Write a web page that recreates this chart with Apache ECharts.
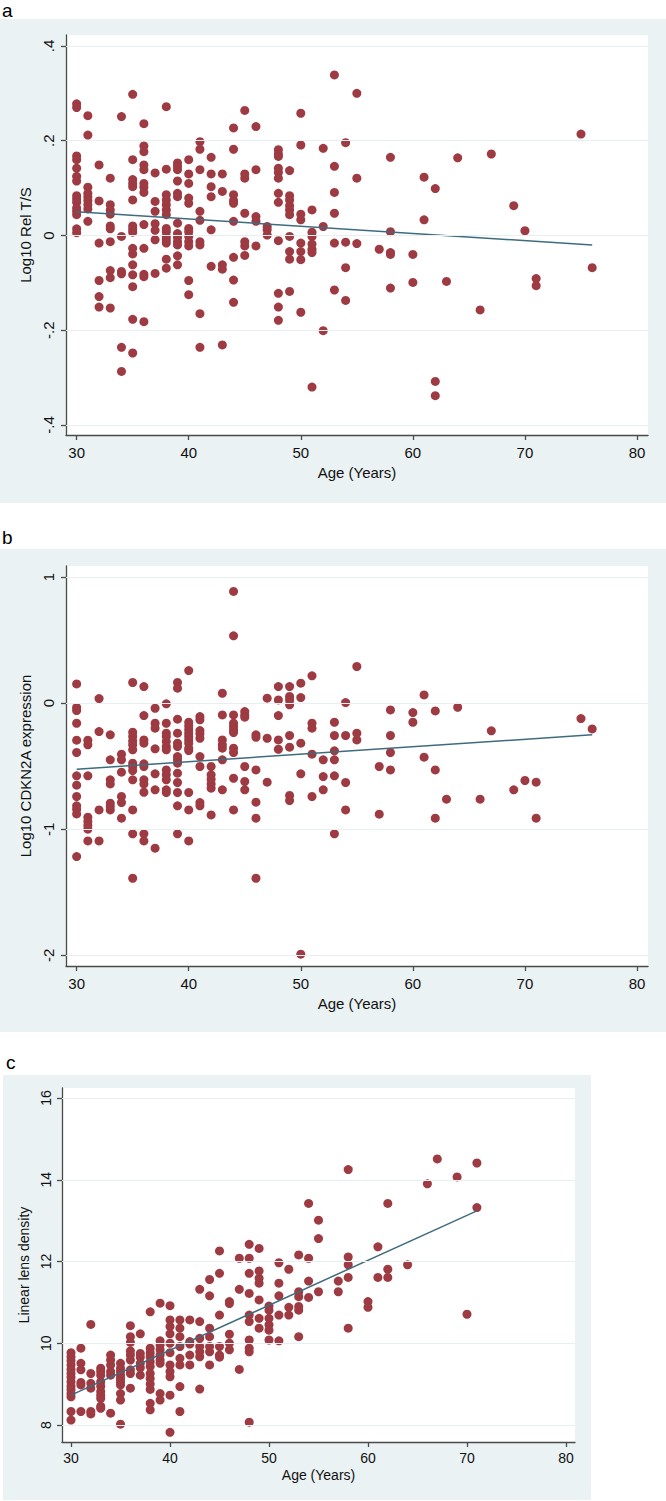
<!DOCTYPE html>
<html>
<head>
<meta charset="utf-8">
<script src="https://cdn.jsdelivr.net/npm/echarts@6/dist/echarts.min.js"></script>
<style>
html,body{margin:0;padding:0;background:#fff;}
#chart{width:666px;height:1501px;}
</style>
</head>
<body>
<div id="chart"></div>
<script>
// ---------- shared ----------
const xTicks = [30, 40, 50, 60, 70, 80];

// ---------- panel a : Log10 Rel T/S ----------
const agesA = [30,31,32,33,34,35,36,37,38,39,40,41,42,43,44,45,46,47,48,49,50,51,52,53,54,55,57,58,60,61,62,63,64,66,67,69,70,71,75,76];
const relTS = [
  [0.278,0.270,0.168,0.160,0.142,0.125,0.115,0.084,0.077,0.070,0.058,0.051,0.044,0.014,0.006],
  [0.253,0.212,0.102,0.089,0.082,0.074,0.065,0.056,0.030],
  [0.149,0.073,-0.016,-0.095,-0.129,-0.151],
  [0.121,0.065,0.054,0.045,0.020,0.014,-0.013,-0.074,-0.089,-0.153],
  [0.251,-0.002,-0.076,-0.081,-0.236,-0.287],
  [0.298,0.160,0.118,0.110,0.103,0.075,0.020,0.013,0.007,-0.027,-0.039,-0.062,-0.083,-0.108,-0.177,-0.248],
  [0.236,0.189,0.177,0.149,0.139,0.110,0.102,0.091,0.023,-0.027,-0.082,-0.087,-0.182],
  [0.132,0.072,0.051,0.025,0.011,-0.009,-0.080],
  [0.272,0.140,0.086,0.075,0.065,0.054,0.044,0.015,0.008,-0.002,-0.009,-0.016,-0.050,-0.069],
  [0.153,0.146,0.139,0.115,0.089,0.082,0.026,0.004,-0.004,-0.013,-0.020,-0.043,-0.062],
  [0.160,0.130,0.110,0.079,0.068,0.015,0.008,-0.002,-0.013,-0.022,-0.095,-0.125],
  [0.198,0.182,0.139,0.051,0.032,-0.013,-0.020,-0.165,-0.236],
  [0.165,0.130,0.103,0.082,0.012,-0.065],
  [0.130,0.093,-0.062,-0.071,-0.231],
  [0.227,0.182,0.086,0.074,0.068,0.030,-0.046,-0.094,-0.141],
  [0.264,0.130,0.121,0.047,-0.013,-0.022,-0.042],
  [0.230,0.139,0.040,0.030,-0.022],
  [0.019,0.012,0.001],
  [0.181,0.172,0.167,0.142,0.133,0.121,0.089,0.070,-0.011,-0.122,-0.151,-0.179],
  [0.137,0.084,0.075,0.063,0.054,0.044,-0.002,-0.034,-0.050,-0.118],
  [0.258,0.191,0.045,0.033,-0.016,-0.034,-0.051,-0.162],
  [0.054,0.007,-0.002,-0.018,-0.029,-0.036,-0.320],
  [0.184,0.019,-0.201],
  [0.339,0.146,0.091,0.047,-0.016,-0.115],
  [0.196,-0.014,-0.068,-0.137],
  [0.300,0.121,-0.017],
  [-0.029],
  [0.165,0.008,-0.036,-0.040,-0.111],
  [-0.040,-0.099],
  [0.123,0.033],
  [0.099,-0.308,-0.338],
  [-0.097],
  [0.164],
  [-0.157],
  [0.172],
  [0.063],
  [0.010],
  [-0.091,-0.106],
  [0.214],
  [-0.068]
];
const fitA = [[30, 0.050], [76, -0.020]];
const yTicksA = [-0.4, -0.2, 0, 0.2, 0.4];
const yLabelsA = ['-.4', '-.2', '0', '.2', '.4'];

// ---------- panel b : Log10 CDKN2A expression ----------
const agesB = [30,31,32,33,34,35,36,37,38,39,40,41,42,43,44,45,46,47,48,49,50,51,52,53,54,55,57,58,60,61,62,63,64,66,67,69,70,71,75,76];
const cdkn2a = [
  [0.153,-0.034,-0.058,-0.159,-0.293,-0.391,-0.576,-0.650,-0.740,-0.814,-0.841,-0.878,-1.216],
  [-0.293,-0.330,-0.576,-0.904,-0.938,-0.970,-0.999,-1.092],
  [0.037,-0.225,-0.846,-1.092],
  [-0.251,-0.449,-0.608,-0.640,-0.793,-0.819,-0.846],
  [-0.404,-0.449,-0.547,-0.740,-0.788,-0.912],
  [0.164,-0.230,-0.264,-0.299,-0.330,-0.370,-0.476,-0.502,-0.534,-0.608,-0.846,-1.036,-1.388],
  [0.132,-0.098,-0.291,-0.317,-0.481,-0.502,-0.608,-0.640,-0.706,-1.036,-1.092],
  [-0.040,-0.159,-0.198,-0.362,-0.560,-0.687,-1.150],
  [-0.005,-0.159,-0.238,-0.264,-0.304,-0.344,-0.370,-0.529,-0.568,-0.608,-0.687,-0.708],
  [0.164,0.119,-0.127,-0.238,-0.317,-0.344,-0.423,-0.449,-0.476,-0.555,-0.629,-0.708,-0.814,-1.036],
  [0.259,-0.151,-0.180,-0.211,-0.238,-0.264,-0.291,-0.317,-0.357,-0.375,-0.708,-0.846,-1.092],
  [-0.106,-0.132,-0.217,-0.243,-0.278,-0.423,-0.502,-0.788,-0.814],
  [-0.502,-0.568,-0.603,-0.640,-0.674,-0.886],
  [0.079,-0.093,-0.291,-0.330,-0.357,-0.449,-0.687],
  [0.886,0.534,-0.093,-0.159,-0.185,-0.211,-0.233,-0.357,-0.391,-0.595,-0.846],
  [-0.066,-0.093,-0.111,-0.502,-0.621,-0.687],
  [-0.251,-0.270,-0.529,-0.785,-0.912,-1.388],
  [0.040,-0.278,-0.626],
  [0.132,0.026,-0.098,-0.291,-0.365],
  [0.132,0.053,0.026,-0.013,-0.256,-0.349,-0.732,-0.772],
  [0.159,0.045,-0.317,-0.560,-1.990],
  [0.217,-0.159,-0.198,-0.404,-0.740],
  [-0.449,-0.582,-0.687],
  [-0.151,-0.256,-0.378,-0.449,-0.576,-1.036],
  [0.005,-0.256,-0.629,-0.846],
  [0.291,-0.238,-0.291],
  [-0.502,-0.880],
  [-0.053,-0.256,-0.391,-0.529],
  [-0.074,-0.151],
  [0.066,-0.428],
  [-0.061,-0.529,-0.912],
  [-0.761],
  [-0.032],
  [-0.761],
  [-0.219],
  [-0.687],
  [-0.613],
  [-0.626,-0.912],
  [-0.122],
  [-0.204]
];
const fitB = [[30, -0.523], [76, -0.251]];
const yTicksB = [-2, -1, 0, 1];
const yLabelsB = ['-2', '-1', '0', '1'];

// ---------- panel c : Linear lens density ----------
const agesC = [30,31,32,33,34,35,36,37,38,39,40,41,42,43,44,45,46,47,48,49,50,51,52,53,54,55,57,58,60,61,62,64,66,67,69,70,71];
const lensDensity = [
  [9.77,9.67,9.57,9.47,9.36,9.26,9.17,9.06,8.95,8.86,8.77,8.69,8.33,8.12],
  [9.88,9.51,9.35,9.04,8.98,8.33],
  [10.46,9.26,9.02,8.90,8.33,8.27],
  [9.39,9.31,9.22,9.06,8.95,8.82,8.73,8.65,8.46,8.41],
  [9.71,9.59,9.47,9.31,9.22,8.29],
  [9.51,9.39,9.31,9.22,9.14,9.06,8.98,8.77,8.61,8.02],
  [10.43,10.16,10.02,9.81,9.71,9.59,9.35,9.26,8.90],
  [10.23,9.75,9.66,9.51,9.40,9.22],
  [10.77,9.88,9.77,9.67,9.55,9.43,9.26,9.14,9.00,8.87,8.53,8.37],
  [10.98,10.06,9.96,9.84,9.71,9.59,9.51,8.77,8.61],
  [10.92,10.57,10.41,10.23,10.00,9.77,9.47,9.31,9.18,8.73,7.82],
  [10.57,10.37,10.16,9.92,9.63,9.47,8.94,8.33],
  [10.57,10.04,9.98,9.71,9.47],
  [11.32,10.53,10.12,9.92,9.79,9.67,8.88],
  [11.56,11.16,10.37,10.16,9.92,9.79,9.47],
  [12.26,11.71,10.69,9.92,9.71,9.66],
  [11.02,10.97,10.22,10.00,9.84],
  [12.08,11.32,9.36],
  [12.42,12.08,11.71,11.22,10.69,10.53,10.08,9.88,9.79,8.07],
  [12.32,11.77,11.59,11.47,11.06,10.61,10.37],
  [10.91,10.81,10.61,10.45,10.32,10.08],
  [11.97,11.47,11.16,10.69,10.06],
  [11.81,10.88,10.69],
  [12.16,11.26,11.14,10.90,10.81,10.16],
  [13.42,12.08,11.52,11.12],
  [13.01,12.56,11.26],
  [11.52,11.26],
  [14.25,12.11,11.92,11.61,10.37],
  [11.02,10.88],
  [12.36,11.61],
  [13.42,11.81,11.61],
  [11.92],
  [13.90],
  [14.51],
  [14.07],
  [10.71],
  [14.41,13.32]
];
const fitC = [[30, 8.73], [71, 13.24]];
const yTicksC = [8, 10, 12, 14, 16];
const yLabelsC = ['8', '10', '12', '14', '16'];

const yTitles = ['Log10 Rel T/S', 'Log10 CDKN2A expression', 'Linear lens density'];
const xTitle = 'Age (Years)';
const panelLetters = ['a', 'b', 'c'];

// ---------- build ----------
function pairs(ages, groups) {
  const out = [];
  ages.forEach((a, i) => groups[i].forEach(v => out.push([a, v])));
  return out;
}

const FONT = '"Liberation Sans", Arial, Helvetica, sans-serif';
const BG = '#eaf2f3';
const MARK = '#9d3a42';
const FIT = '#3f6b7e';
const AXIS = '#4a4a4a';
const GRIDC = '#e8eff1';

const panels = [
  { pts: pairs(agesA, relTS), fit: fitA, yt: yTicksA, yl: yLabelsA,
    grid: {left: 66, top: 35, width: 582, height: 400},
    xr: [29.05, 80.98], yr: [-0.4211, 0.4232], fs: 15, yGap: 29, xGap: 30, lm: 10,
    bg: [0, 19, 666, 484], letter: [2, 10] },
  { pts: pairs(agesB, cdkn2a), fit: fitB, yt: yTicksB, yl: yLabelsB,
    grid: {left: 66, top: 566, width: 582, height: 400},
    xr: [29.05, 80.98], yr: [-2.084, 1.088], fs: 15, yGap: 29, xGap: 30, lm: 10,
    bg: [0, 549, 666, 483], letter: [2, 537] },
  { pts: pairs(agesC, lensDensity), fit: fitC, yt: yTicksC, yl: yLabelsC,
    grid: {left: 62, top: 1088, width: 513, height: 354},
    xr: [29.09, 80.91], yr: [7.584, 16.245], fs: 14, yGap: 27, xGap: 26, lm: 9,
    bg: [3, 1075, 588, 425], letter: [6, 1062] }
];

const option = {
  animation: false,
  backgroundColor: '#ffffff',
  textStyle: {fontFamily: FONT},
  grid: [], xAxis: [], yAxis: [], series: [], graphic: []
};

panels.forEach((p, i) => {
  option.graphic.push({
    type: 'rect', z: -10, silent: true,
    shape: {x: p.bg[0], y: p.bg[1], width: p.bg[2], height: p.bg[3]},
    style: {fill: BG}
  });
  option.graphic.push({
    type: 'text', z: 10, silent: true, x: p.letter[0], y: p.letter[1],
    style: {text: panelLetters[i], fontSize: 19, fontFamily: FONT, fill: '#000',
            textVerticalAlign: 'middle', verticalAlign: 'middle'}
  });
  option.grid.push(Object.assign({show: true, backgroundColor: '#ffffff', borderWidth: 0}, p.grid));
  option.xAxis.push({
    type: 'value', gridIndex: i, min: p.xr[0], max: p.xr[1],
    name: xTitle, nameLocation: 'middle', nameGap: p.xGap,
    nameTextStyle: {fontSize: p.fs, color: '#111', fontFamily: FONT},
    axisLine: {show: true, onZero: false, lineStyle: {color: AXIS, width: 1.3}},
    axisTick: {show: true, length: 5, customValues: xTicks, lineStyle: {color: AXIS, width: 1.3}},
    axisLabel: {customValues: xTicks, margin: p.lm, fontSize: p.fs, color: '#111', fontFamily: FONT},
    splitLine: {show: false}
  });
  option.yAxis.push({
    type: 'value', gridIndex: i, min: p.yr[0], max: p.yr[1],
    name: yTitles[i], nameLocation: 'middle', nameGap: p.yGap, nameRotate: 90,
    nameTextStyle: {fontSize: p.fs, color: '#111', fontFamily: FONT},
    axisLine: {show: true, onZero: false, lineStyle: {color: AXIS, width: 1.3}},
    axisTick: {show: true, length: 5, customValues: p.yt, lineStyle: {color: AXIS, width: 1.3}},
    axisLabel: {customValues: p.yt, rotate: 90, margin: p.lm, fontSize: p.fs, color: '#111', fontFamily: FONT,
      formatter: v => { const k = p.yt.findIndex(t => Math.abs(t - v) < 1e-9); return k >= 0 ? p.yl[k] : ''; }},
    splitLine: {show: false}
  });
  // gridlines at the y ticks
  option.series.push({
    type: 'line', xAxisIndex: i, yAxisIndex: i, data: [], z: 1, silent: true,
    markLine: {silent: true, symbol: 'none', animation: false, label: {show: false},
      lineStyle: {color: GRIDC, width: 1.2, type: 'solid'},
      data: p.yt.map(v => ({yAxis: v}))}
  });
  option.series.push({
    type: 'scatter', xAxisIndex: i, yAxisIndex: i, data: p.pts, z: 2,
    symbol: 'circle', symbolSize: 9,
    itemStyle: {color: MARK, opacity: 1}
  });
  option.series.push({
    type: 'line', xAxisIndex: i, yAxisIndex: i, data: p.fit, z: 3,
    showSymbol: false, symbol: 'none',
    lineStyle: {color: FIT, width: 1.5}
  });
});

const chart = echarts.init(document.getElementById('chart'), null, {renderer: 'svg', width: 666, height: 1501});
chart.setOption(option);
</script>
</body>
</html>
